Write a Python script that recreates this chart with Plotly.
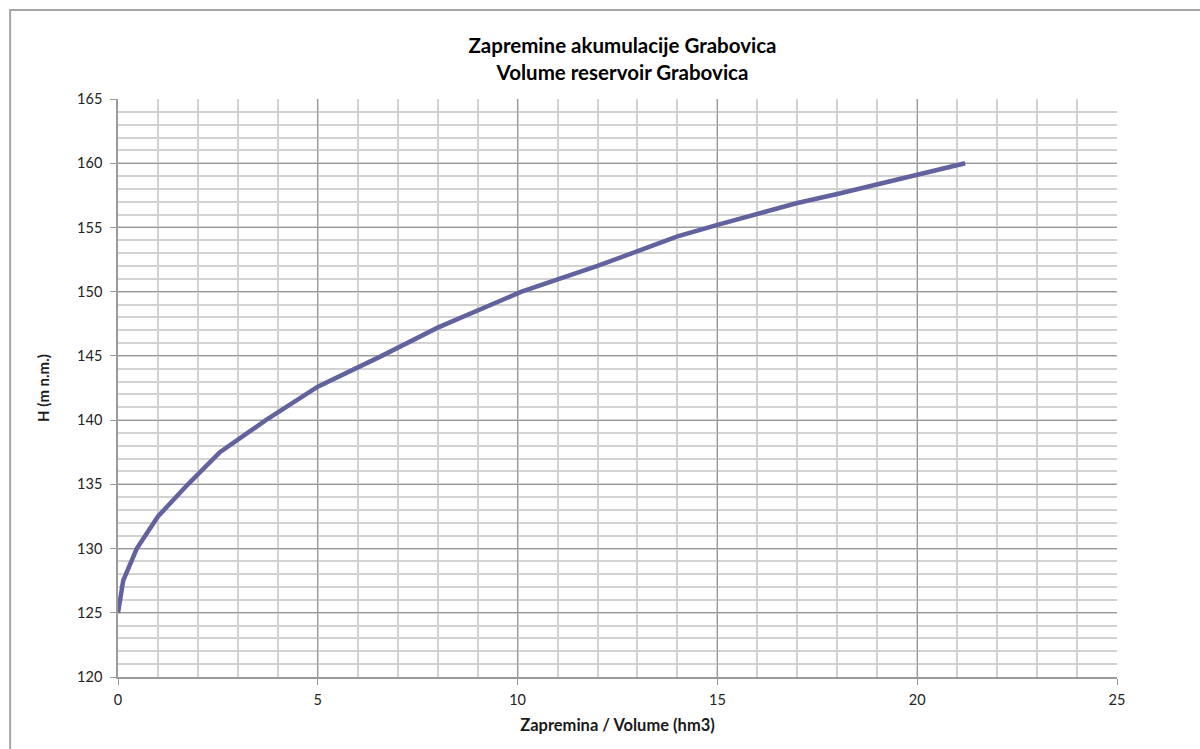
import plotly.graph_objects as go

# Volume (hm3) vs water level H (m n.m.)
volume = [0, 0.13, 0.47, 1.0, 1.75, 2.55, 3.7, 5.0, 6.6, 8.0, 10.1, 12.0, 14.0, 15.0, 17.0, 18.0, 21.2]
level = [125, 127.5, 130, 132.5, 135, 137.5, 140, 142.6, 145, 147.2, 150, 152, 154.3, 155.2, 156.9, 157.6, 160]

x_ticks = [0, 5, 10, 15, 20, 25]
y_ticks = [120, 125, 130, 135, 140, 145, 150, 155, 160, 165]

FONT = "Lato, 'Open Sans', sans-serif"
MAJOR = "#9a9a9a"
MINOR = "#d2d2d2"


def build_figure():
    fig = go.Figure()

    fig.add_trace(
        go.Scatter(
            x=volume,
            y=level,
            mode="lines",
            line=dict(color="#62629e", width=4.5),
            showlegend=False,
            hovertemplate="V: %{x} hm3<br>H: %{y} m<extra></extra>",
        )
    )

    fig.update_layout(
        width=1200,
        height=749,
        paper_bgcolor="white",
        plot_bgcolor="white",
        margin=dict(l=118, r=83, t=99, b=72),
        font=dict(family=FONT, size=14, color="#1a1a1a"),
        title=dict(
            text="<b>Zapremine akumulacije Grabovica<br>Volume reservoir Grabovica</b>",
            x=0.505,
            xanchor="center",
            xref="paper",
            y=0.929,
            yanchor="top",
            font=dict(family=FONT, size=20.5, color="#000000"),
        ),
    )

    fig.update_xaxes(
        range=[0, 25],
        tickvals=x_ticks,
        showgrid=True,
        gridcolor=MAJOR,
        gridwidth=1.3,
        minor=dict(dtick=1, showgrid=True, gridcolor=MINOR, gridwidth=1.5),
        showline=True,
        linecolor=MAJOR,
        linewidth=1.5,
        ticks="outside",
        ticklen=6,
        tickcolor=MAJOR,
        ticklabelstandoff=3,
        zeroline=False,
        tickfont=dict(size=14.5, color="#222222"),
        title=dict(text="<b>Zapremina / Volume (hm3)</b>", font=dict(size=16.5), standoff=12),
    )
    fig.update_yaxes(
        range=[120, 165],
        tickvals=y_ticks,
        showgrid=True,
        gridcolor=MAJOR,
        gridwidth=1.3,
        minor=dict(dtick=1, showgrid=True, gridcolor=MINOR, gridwidth=1.5),
        showline=True,
        linecolor=MAJOR,
        linewidth=1.5,
        ticks="outside",
        ticklen=6,
        tickcolor=MAJOR,
        ticklabelstandoff=5,
        zeroline=False,
        tickfont=dict(size=14.5, color="#222222"),
        title=dict(text="<b>H (m n.m.)</b>", font=dict(size=15), standoff=24),
    )

    # outer chart border (Excel chart area frame)
    fig.add_shape(
        type="rect",
        xref="paper",
        yref="paper",
        x0=-0.108,
        x1=1.2,
        y0=-0.3,
        y1=1.154,
        line=dict(color="#a6a6a6", width=2),
        fillcolor="rgba(0,0,0,0)",
        layer="below",
    )

    return fig


def main():
    fig = build_figure()
    # drop the default page margin so the figure sits at the window corner
    fig.write_html(
        "out.html",
        config={"displayModeBar": False},
        post_script="document.body.style.margin='0';",
    )


if __name__ == "__main__":
    main()
